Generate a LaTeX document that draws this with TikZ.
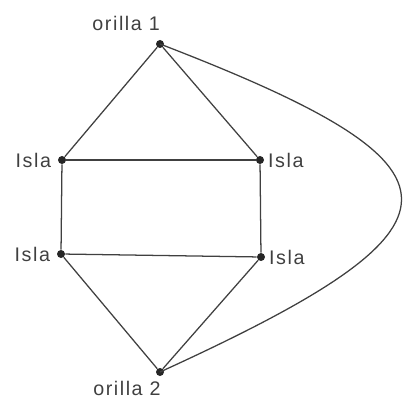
\documentclass[tikz,border=0pt]{standalone}
\usepackage{fontspec}
\setmainfont{Liberation Sans}
\usetikzlibrary{positioning}

\begin{document}
\begin{tikzpicture}[x=0.025cm, y=-0.025cm,
  font=\fontsize{14pt}{16pt}\selectfont\addfontfeatures{LetterSpace=8},
  dot/.style={circle, fill=black!85, inner sep=0pt, minimum size=2mm},
  lbl/.style={inner sep=0pt, text=black!75},
  edge/.style={draw=black!75, line width=0.9pt}]
  \useasboundingbox (0,0) rectangle (405,405);
  % vertices
  \node[dot] (o1) at (160,44) {};
  \node[dot] (i1) at (62,160) {};
  \node[dot] (i2) at (260,160) {};
  \node[dot] (i3) at (61,254) {};
  \node[dot] (i4) at (261,257) {};
  \node[dot] (o2) at (160,372) {};
  % labels
  \node[lbl, above left=2.6mm and -0.8mm of o1] (t1) {orilla 1};
  \node[lbl, below left=1.6mm and -1mm of o2] (t2) {orilla 2};
  \node[lbl, left=1.6mm of i1] (ti1) {Isla};
  \node[lbl, right=0.9mm of i2] (ti2) {Isla};
  \node[lbl, left=1.6mm of i3] (ti3) {Isla};
  \node[lbl, right=0.9mm of i4] (ti4) {Isla};
  % bridges
  \draw[edge] (o1) -- (i1) -- (i3) -- (o2) -- (i4) -- (i2) -- (o1);
  \draw[edge] (i1) -- (i2);
  \draw[edge] (i3) -- (i4);
  \draw[edge] (o1.center) .. controls (482,168) and (482,225) .. (o2.center);
\end{tikzpicture}
\end{document}
